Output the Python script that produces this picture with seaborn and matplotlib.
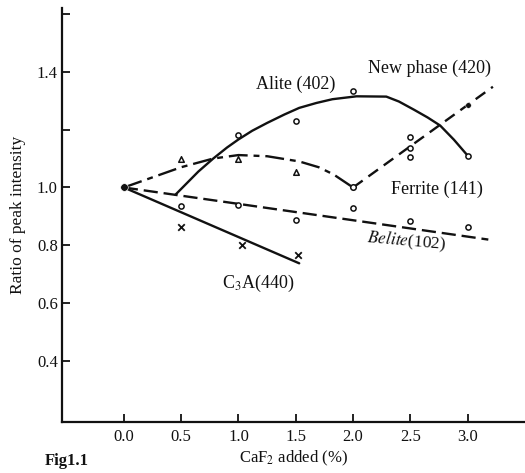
import matplotlib
matplotlib.use("Agg")
import matplotlib.pyplot as plt
import seaborn as sns

# ---------------- data ----------------
origin_x = [0.0]
origin_y = [1.0]

alite_curve_x = [0.45, 0.55, 0.65, 0.78, 0.9, 1.0, 1.12, 1.25, 1.4, 1.53, 1.68, 1.82,
                 2.03, 2.29, 2.4, 2.53, 2.65, 2.76, 2.88, 3.0]
alite_curve_y = [0.975, 1.015, 1.055, 1.10, 1.138, 1.166, 1.196, 1.223, 1.252, 1.275, 1.292, 1.305,
                 1.315, 1.314, 1.297, 1.269, 1.242, 1.214, 1.165, 1.11]
alite_pts_x = [1.0, 1.5, 2.0, 2.5, 3.0]
alite_pts_y = [1.183, 1.23, 1.335, 1.176, 1.11]

belite_line_x = [0.0, 3.18]
belite_line_y = [1.0, 0.82]
belite_pts_x = [0.5, 1.0, 1.5, 2.0, 2.5, 3.0]
belite_pts_y = [0.935, 0.94, 0.886, 0.93, 0.883, 0.862]

ferrite_curve_x = [0.0, 0.25, 0.5, 0.78, 1.0, 1.25, 1.53, 1.7, 1.83, 2.0]
ferrite_curve_y = [1.0, 1.035, 1.07, 1.10, 1.112, 1.108, 1.09, 1.07, 1.045, 1.0]
ferrite_tri_x = [0.5, 1.0, 1.5]
ferrite_tri_y = [1.10, 1.097, 1.055]
ferrite_circ_x = [2.0]
ferrite_circ_y = [1.0]

newphase_line_x = [2.0, 3.22]
newphase_line_y = [1.0, 1.348]
newphase_pts_x = [2.5, 2.5]
newphase_pts_y = [1.138, 1.107]
newphase_dot_x = [3.0]
newphase_dot_y = [1.286]

c3a_line_x = [0.0, 1.53]
c3a_line_y = [1.0, 0.738]
c3a_pts_x = [0.5, 1.03, 1.52]
c3a_pts_y = [0.862, 0.80, 0.765]

xticks = [0.0, 0.5, 1.0, 1.5, 2.0, 2.5, 3.0]
xtick_labels = ["0.0", "0.5", "1.0", "1.5", "2.0", "2.5", "3.0"]
yticks = [0.4, 0.6, 0.8, 1.0, 1.2, 1.4, 1.6]
ytick_labels = ["0.4", "0.6", "0.8", "1.0", "", "1.4", ""]

# ---------------- style ----------------
sns.set_style("ticks")
plt.rcParams["font.family"] = ["Liberation Serif", "DejaVu Serif"]
plt.rcParams["mathtext.fontset"] = "stix"

fig = plt.figure(figsize=(5.25, 4.73), dpi=100)
ax = fig.add_axes([0.118, 0.108, 0.882, 0.875])

K = "#111111"
LW = 1.7

def line(x, y, ls):
    sns.lineplot(x=x, y=y, ax=ax, color=K, lw=LW, sort=False, estimator=None)
    ax.lines[-1].set_linestyle(ls)

line(alite_curve_x, alite_curve_y, "-")
line(belite_line_x, belite_line_y, (0, (6, 2.5)))
line(ferrite_curve_x, ferrite_curve_y, (0, (8, 2.5, 2.5, 2.5)))
line(newphase_line_x, newphase_line_y, (0, (5, 3)))
line(c3a_line_x, c3a_line_y, "-")

mk = dict(ax=ax, facecolor="white", edgecolor=K, linewidth=1.1, zorder=5, legend=False)
sns.scatterplot(x=alite_pts_x, y=alite_pts_y, marker="o", s=14, **mk)
sns.scatterplot(x=belite_pts_x, y=belite_pts_y, marker="o", s=14, **mk)
sns.scatterplot(x=ferrite_tri_x, y=ferrite_tri_y, marker="^", s=16, **mk)
sns.scatterplot(x=ferrite_circ_x, y=ferrite_circ_y, marker="o", s=16, **mk)
sns.scatterplot(x=newphase_pts_x, y=newphase_pts_y, marker="o", s=14, **mk)
sns.scatterplot(x=newphase_dot_x, y=newphase_dot_y, marker="o", s=16, color=K, zorder=5, ax=ax, legend=False)
sns.scatterplot(x=c3a_pts_x, y=c3a_pts_y, marker="x", s=22, color=K, linewidth=1.3, zorder=5, ax=ax, legend=False)
sns.scatterplot(x=origin_x, y=origin_y, marker="o", s=30, color=K, zorder=6, ax=ax, legend=False)

# labels on curves
ax.text(1.5, 1.355, "Alite (402)", ha="center", va="center", fontsize=13, color=K)
ax.text(2.67, 1.41, "New phase (420)", ha="center", va="center", fontsize=13, color=K)
ax.text(2.73, 0.995, "Ferrite (141)", ha="center", va="center", fontsize=13, color=K)
ax.text(2.47, 0.814, "$\\it{Belite}$(102)", ha="center", va="center", fontsize=12.5, color=K, rotation=-5)
ax.text(1.17, 0.67, "C$_3$A(440)", ha="center", va="center", fontsize=13, color=K)

# axes
ax.set_xlim(-0.54, 3.5)
ax.set_ylim(0.19, 1.62)
ax.set_xticks(xticks)
ax.set_xticklabels(xtick_labels)
ax.set_yticks(yticks)
ax.set_yticklabels(ytick_labels)
ax.tick_params(direction="in", length=6, width=1.3, colors=K, labelsize=12)
ax.tick_params(axis="y", pad=3)
ax.tick_params(axis="x", pad=5)
for s in ["top", "right"]:
    ax.spines[s].set_visible(False)
for s in ["left", "bottom"]:
    ax.spines[s].set_linewidth(1.6)
    ax.spines[s].set_color(K)

ax.set_ylabel("Ratio of peak intensity", fontsize=12.5, color=K, labelpad=8)
ax.set_xlabel("CaF$_2$ added (%)", fontsize=12, color=K, labelpad=3)

fig.text(45 / 525, 1 - 453 / 473, "Fig1.1", fontsize=12, fontweight="bold",
         ha="left", va="top", color=K)

fig.savefig("out.png", dpi=100)
